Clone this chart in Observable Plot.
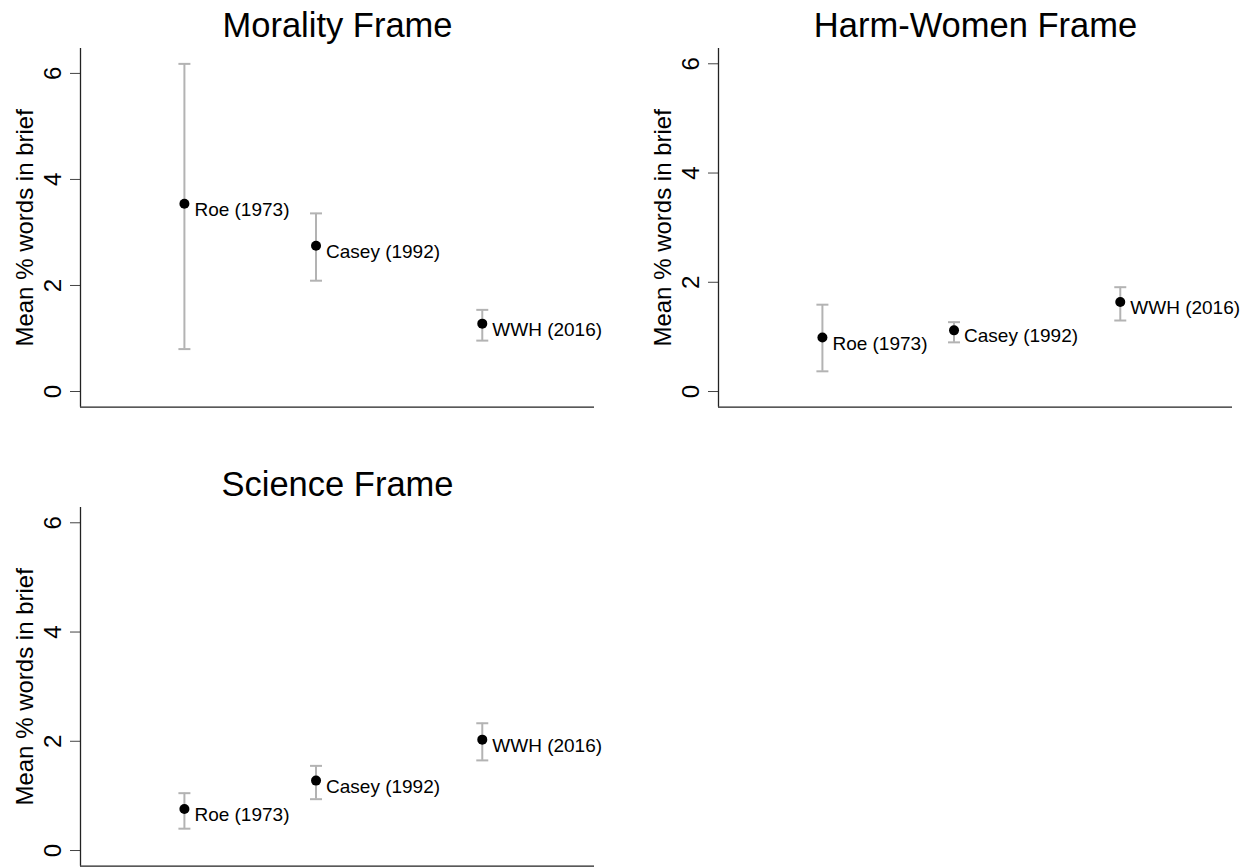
<!DOCTYPE html>
<html>
<head>
<meta charset="utf-8">
<script src="https://cdn.jsdelivr.net/npm/d3@7"></script>
<script src="https://cdn.jsdelivr.net/npm/@observablehq/plot@0.6"></script>
<style>
  body { margin: 0; background: #fff; width: 1250px; height: 867px; position: relative; overflow: hidden;
         font-family: "Liberation Sans", Arial, Helvetica, sans-serif; }
  .panel { position: absolute; width: 620px; height: 420px; }
</style>
</head>
<body>
<div id="p1" class="panel" style="left:0px;top:0px"></div>
<div id="p2" class="panel" style="left:638px;top:0px"></div>
<div id="p3" class="panel" style="left:0px;top:459px"></div>
<script>
// ---- data ----
const cases = ["Roe (1973)", "Casey (1992)", "WWH (2016)"];
const years = [1973, 1992, 2016];
const frameTitles = ["Morality Frame", "Harm-Women Frame", "Science Frame"];
const yLabel = "Mean % words in brief";
const yTicks = [0, 2, 4, 6];
const yTickLabels = ["0", "2", "4", "6"];

const moralityMean = [3.54, 2.75, 1.28];
const moralityLo   = [0.80, 2.09, 0.96];
const moralityHi   = [6.18, 3.36, 1.54];

const harmMean = [0.99, 1.12, 1.64];
const harmLo   = [0.37, 0.90, 1.30];
const harmHi   = [1.59, 1.27, 1.91];

const scienceMean = [0.76, 1.28, 2.03];
const scienceLo   = [0.40, 0.94, 1.65];
const scienceHi   = [1.05, 1.55, 2.33];

// scale extents (as in the original graph)
const xDomain = [1958, 2032.2];
const yDomainMorality = [-0.296, 6.47];
const yDomainOther = [-0.287, 6.28];

// ---- drawing ----
const FONT = '"Liberation Sans", Arial, Helvetica, sans-serif';
const capSymbol = {
  draw(ctx, size) {
    const r = Math.sqrt(size / Math.PI);
    ctx.moveTo(-r, 0);
    ctx.lineTo(r, 0);
  }
};

function panel(title, mean, lo, hi, yDomain) {
  const data = cases.map((c, i) => ({label: c, year: years[i], mean: mean[i], lo: lo[i], hi: hi[i]}));
  const ticks = yTicks.map((v, i) => ({v, t: yTickLabels[i]}));
  const barColor = "#b3b3b3";
  return Plot.plot({
    width: 620,
    height: 420,
    marginLeft: 80,
    marginRight: 26,
    marginTop: 48,
    marginBottom: 13.3,
    style: {fontFamily: FONT, background: "white", overflow: "visible", color: "#000", maxWidth: "none"},
    x: {domain: xDomain, axis: null},
    y: {domain: yDomain},
    marks: [
      Plot.axisY(yTicks, {tickSize: 10, tickFormat: () => "", stroke: "#444", label: null}),
      Plot.text(ticks, {x: xDomain[0], y: "v", text: "t", rotate: -90, dx: -20, lineAnchor: "bottom",
                        textAnchor: "middle", fontSize: 24, fill: "#000"}),
      Plot.ruleX([xDomain[0]], {stroke: "#222", strokeWidth: 1.3}),
      Plot.ruleY([yDomain[0]], {stroke: "#222", strokeWidth: 1.3}),
      Plot.ruleX(data, {x: "year", y1: "lo", y2: "hi", stroke: barColor, strokeWidth: 2}),
      Plot.dot(data, {x: "year", y: "hi", symbol: capSymbol, r: 6, stroke: barColor, strokeWidth: 2, fill: "none"}),
      Plot.dot(data, {x: "year", y: "lo", symbol: capSymbol, r: 6, stroke: barColor, strokeWidth: 2, fill: "none"}),
      Plot.dot(data, {x: "year", y: "mean", r: 5, fill: "#000", stroke: "none"}),
      Plot.text(data, {x: "year", y: "mean", text: "label", textAnchor: "start", dx: 10, dy: 6,
                       fontSize: 19, fill: "#000"}),
      Plot.text([title], {frameAnchor: "top", dy: -11.5, lineAnchor: "bottom", textAnchor: "middle",
                          fontSize: 34.5, fill: "#000"}),
      Plot.text([yLabel], {frameAnchor: "left", rotate: -90, dx: -48, lineAnchor: "bottom",
                           textAnchor: "middle", fontSize: 24, fill: "#000"})
    ]
  });
}

document.getElementById("p1").appendChild(panel(frameTitles[0], moralityMean, moralityLo, moralityHi, yDomainMorality));
document.getElementById("p2").appendChild(panel(frameTitles[1], harmMean, harmLo, harmHi, yDomainOther));
document.getElementById("p3").appendChild(panel(frameTitles[2], scienceMean, scienceLo, scienceHi, yDomainOther));
</script>
</body>
</html>
